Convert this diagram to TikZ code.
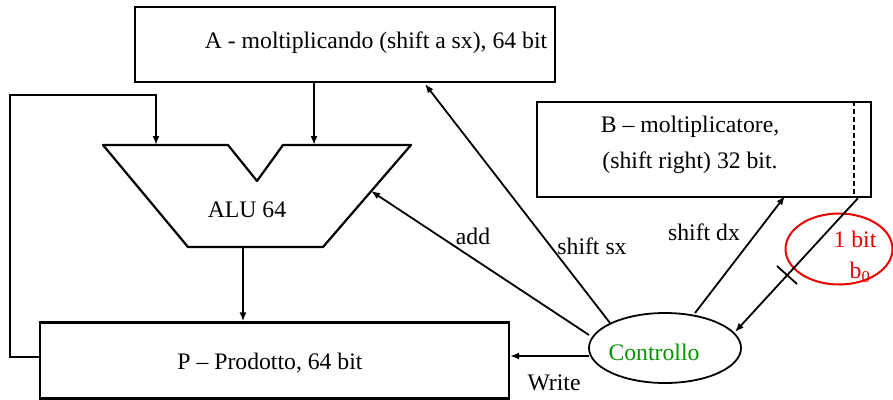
\documentclass[tikz,border=0pt]{standalone}
\usepackage{fontspec}
\setmainfont{Liberation Serif}
\usetikzlibrary{arrows.meta,shapes.geometric}
\definecolor{ctrlgreen}{RGB}{0,150,0}
\definecolor{bitred}{RGB}{235,0,0}
\begin{document}
\begin{tikzpicture}[x=1pt,y=-1pt,
  font=\fontsize{23.7}{28}\selectfont,
  box/.style={draw, line width=2.2pt, inner sep=0pt},
  conn/.style={line width=1.8pt},
  arr/.style={conn, -{Latex[length=9pt,width=7pt]}},
  lbl/.style={inner sep=0pt, anchor=center}]
\useasboundingbox (0,0) rectangle (893,399);

% boxes
\node[box, minimum width=420pt, minimum height=75pt] (A) at (345,44.5) {};
\node[lbl] (Atext) at (376,43) {A - moltiplicando (shift a sx), 64 bit};

\node[box, minimum width=334pt, minimum height=95pt] (B) at (704,149.5) {};
\node[lbl] (Btext1) at (690,127) {B -- moltiplicatore,};
\node[lbl] (Btext2) at (690,163) {(shift right) 32 bit.};
\coordinate (bd) at (854,0);
\draw[dashed, line width=1.5pt, dash pattern=on 5pt off 3pt] (B.north -| bd) -- (B.south -| bd);

\node[box, minimum width=469pt, minimum height=76pt] (P) at (274.5,360.5) {};
\node[lbl] (Ptext) at (270,363) {P -- Prodotto, 64 bit};

% ALU
\coordinate (alu1) at (103,145);
\coordinate (alu2) at (228,145);
\coordinate (alu3) at (257,181);
\coordinate (alu4) at (283,145);
\coordinate (alu5) at (411,145);
\coordinate (alu6) at (323,247);
\coordinate (alu7) at (188,247);
\draw[line width=2.2pt, line join=round] (alu1) -- (alu2) -- (alu3) -- (alu4) -- (alu5) -- (alu6) -- (alu7) -- cycle;
\node[lbl] (alu) at (247,210) {ALU 64};

% control
\node[draw, ellipse, line width=1.8pt, minimum width=152pt, minimum height=70pt, inner sep=0pt] (C) at (665,348) {};
\node[lbl, text=ctrlgreen] (Ctext) at (654,352) {Controllo};

% red bit ellipse
\node[draw=bitred, ellipse, line width=2pt, minimum width=107pt, minimum height=71pt, inner sep=0pt] (R) at (839,249) {};
\node[lbl, text=bitred] (Rtext1) at (855,239) {1 bit};
\node[lbl, text=bitred] (Rtext2) at (860,272) {b\textsubscript{0}};

% connectors
\coordinate (aluinA) at (314,145);
\draw[arr] (A.south -| aluinA) -- (aluinA);

\coordinate (aluinB) at (156,145);
\coordinate (ploop) at (40,357);
\coordinate (lc1) at (10,357);
\coordinate (lc2) at (10,95);
\draw[arr, line join=miter] (ploop) -- (lc1) -- (lc2) -| (aluinB);

\coordinate (aluout) at (243,247);
\draw[arr] (aluout) -- (aluout |- P.north);

\coordinate (csx) at (610,323);
\coordinate (asx) at (425,84);
\draw[arr] (csx) -- (asx);
\node[lbl] (lsx) at (592,246) {shift sx};

\coordinate (cadd) at (589,335);
\coordinate (aluadd) at (371,191);
\draw[arr] (cadd) -- (aluadd);
\node[lbl] (ladd) at (473,236) {add};

\coordinate (cw) at (589,356);
\draw[arr] (cw) -- (cw -| P.east);
\node[lbl] (lw) at (554,383) {Write};

\coordinate (cdx) at (695,313);
\coordinate (bdx) at (785,196);
\draw[arr] (cdx) -- (bdx);
\node[lbl] (ldx) at (704,232) {shift dx};

\coordinate (bo) at (858,0);
\coordinate (ctip) at (735,332);
\draw[arr] (B.south -| bo) -- (ctip);
\coordinate (t1) at (777,266);
\coordinate (t2) at (797,284);
\draw[conn] (t1) -- (t2);
\end{tikzpicture}
\end{document}
